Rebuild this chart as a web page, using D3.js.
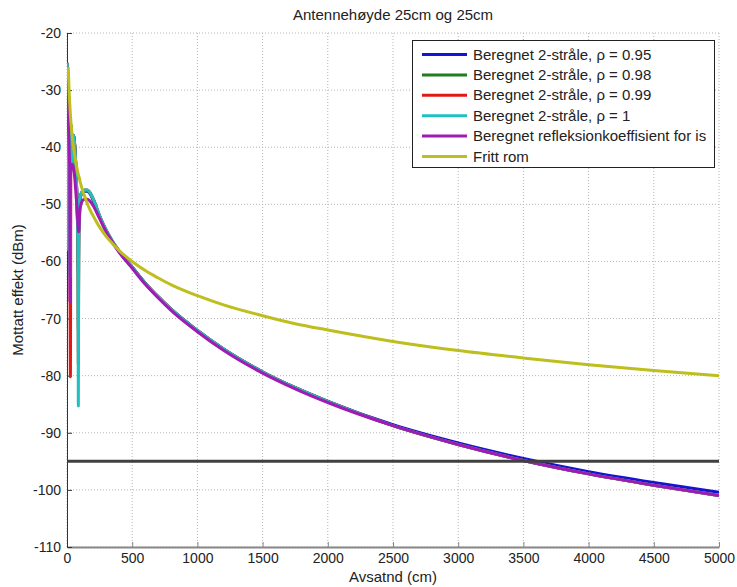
<!DOCTYPE html>
<html>
<head>
<meta charset="utf-8">
<script src="https://cdn.jsdelivr.net/npm/d3@7"></script>
<style>
  body { margin: 0; background: #fff; }
  text { font-family: "Liberation Sans", Arial, sans-serif; fill: #222; }
</style>
</head>
<body>
<div id="chart"></div>
<script>
// avstand i cm (felles x for alle kurver)
var avstand = [2, 4, 6, 8, 10, 12, 14, 16, 18, 20, 23, 26, 30, 35, 40, 45, 50, 55, 60, 65,
  70, 75, 80, 85, 87, 90, 95, 100, 110, 120, 135, 156, 175, 200, 250, 300, 350, 400,
  500, 600, 700, 800, 1000, 1200, 1500, 1750, 2000, 2500, 3000, 3500, 4000, 4500, 5000];

var rho095 = [-25.5, -42, -27.5, -48, -29.5, -50, -31.5, -46, -33.5, -49, -52, -41, -36.5, -38, -43, -38.6, -38, -38.6, -40, -42,
  -44.5, -48, -52, -57, -62, -55, -50.5, -49.2, -48.2, -47.9, -47.7, -47.7, -48.1, -49.2, -52.2, -54.7, -56.7, -58.3,
  -61.0, -63.8, -66.2, -68.4, -72.1, -75.35, -79.35, -82.1, -84.5, -88.6, -91.8, -94.5, -96.8, -98.7, -100.4];

var rho098 = [-25.3, -44, -27.2, -52, -29.2, -55, -31.2, -48, -33.2, -53, -57, -42, -36.2, -38, -43.5, -38.5, -37.9, -38.5, -40, -42,
  -44.5, -48, -52.5, -60, -72, -56, -50.5, -49.1, -48.1, -47.8, -47.6, -47.6, -48, -49.1, -52.1, -54.6, -56.6, -58.2,
  -61.0, -63.8, -66.2, -68.4, -72.1, -75.35, -79.35, -82.1, -84.5, -88.75, -92.05, -94.85, -97.2, -99.2, -101];

var rho099 = [-25.2, -45, -27.1, -54, -29.1, -57, -31.1, -49, -33.1, -56, -60, -80.2, -36.1, -38, -43.8, -38.5, -37.9, -38.5, -40, -42,
  -44.5, -48, -52.6, -61, -78, -56, -50.5, -49, -48, -47.7, -47.5, -47.5, -47.9, -49, -52, -54.5, -56.5, -58.2,
  -61.0, -63.8, -66.2, -68.4, -72.1, -75.35, -79.35, -82.1, -84.5, -88.75, -92.05, -94.85, -97.2, -99.2, -101];

var rho1 = [-25.2, -45, -27, -55, -29, -58, -31, -50, -33, -52, -62.7, -42, -36, -38, -44, -38.5, -37.9, -38.5, -40, -42,
  -44.5, -48, -52.7, -62, -85.3, -56, -50.5, -49, -48, -47.7, -47.5, -47.5, -47.9, -49, -52, -54.5, -56.5, -58.2,
  -61.0, -63.8, -66.2, -68.4, -72.1, -75.35, -79.35, -82.1, -84.5, -88.75, -92.05, -94.85, -97.2, -99.2, -101];

var isRefleksjon = [-28, -30, -31.5, -33, -35, -36.5, -38, -40, -41.5, -43, -67, -44, -43.5, -43, -43, -43.3, -43.8, -44.5, -45.5, -47,
  -48.5, -50, -52, -54, -54.5, -54.8, -52.5, -51, -49.8, -49.3, -49.1, -49.1, -49.4, -50.2, -52.5, -54.8, -56.7, -58.4,
  -61.2, -64.0, -66.4, -68.6, -72.3, -75.55, -79.55, -82.3, -84.7, -88.75, -92.05, -94.85, -97.2, -99.2, -101];

var frittRom = [null, null, null, null, -26, -27.6, -28.9, -30.1, -31.1, -32, -33.2, -34.3, -35.6, -36.9, -38.1, -39.1, -40, -40.8, -41.6, -42.3,
  -42.9, -43.5, -44.1, -44.6, -44.8, -45.1, -45.4, -46, -46.8, -47.6, -48.6, -49.9, -50.9, -52, -54, -55.6, -56.9, -58.1,
  -60, -61.6, -62.9, -64.1, -66, -67.6, -69.5, -70.9, -72, -74, -75.6, -76.9, -78.1, -79.1, -80];

var grenseX = [0, 5000];
var grenseY = [-95, -95];

var serieNavn = ["Beregnet 2-stråle, ρ = 0.95", "Beregnet 2-stråle, ρ = 0.98", "Beregnet 2-stråle, ρ = 0.99",
  "Beregnet 2-stråle, ρ = 1", "Beregnet refleksionkoeffisient for is", "Fritt rom"];
var serieFarger = ["#1414d2", "#1e7d1e", "#e01818", "#1ec0c0", "#a01ab4", "#bebe1e"];
var serieData = [rho095, rho098, rho099, rho1, isRefleksjon, frittRom];

var xTicks = d3.range(0, 5001, 500);
var yTicks = d3.range(-110, -19, 10);

var W = 737, H = 587;
var mLeft = 67, mRight = 719, mTop = 33, mBottom = 547;

var svg = d3.select("#chart").append("svg")
  .attr("width", W).attr("height", H);

var x = d3.scaleLinear().domain([0, 5000]).range([mLeft, mRight]);
var y = d3.scaleLinear().domain([-110, -20]).range([mBottom, mTop]);

// rutenett
svg.append("g").selectAll("line").data(xTicks).enter().append("line")
  .attr("x1", function (d) { return x(d); }).attr("x2", function (d) { return x(d); })
  .attr("y1", mTop).attr("y2", mBottom)
  .attr("stroke", "#b4b4b4").attr("stroke-dasharray", "1,2");
svg.append("g").selectAll("line").data(yTicks).enter().append("line")
  .attr("y1", function (d) { return y(d); }).attr("y2", function (d) { return y(d); })
  .attr("x1", mLeft).attr("x2", mRight)
  .attr("stroke", "#b4b4b4").attr("stroke-dasharray", "1,2");

// akser
var fmt = function (d) { return String(d); };
var xAxis = svg.append("g").attr("transform", "translate(0," + mBottom + ")")
  .call(d3.axisBottom(x).tickValues(xTicks).tickFormat(fmt).tickSizeInner(-5).tickSizeOuter(0).tickPadding(6));
xAxis.select(".domain").attr("stroke", "#888").attr("stroke-width", 2);
xAxis.selectAll(".tick line").attr("stroke", "#888");

var yAxis = svg.append("g").attr("transform", "translate(" + mLeft + ",0)")
  .call(d3.axisLeft(y).tickValues(yTicks).tickFormat(fmt).tickSizeInner(-5).tickSizeOuter(0).tickPadding(6));
yAxis.select(".domain").attr("stroke", "#333");
yAxis.selectAll(".tick line").attr("stroke", "#333");

svg.selectAll(".tick text")
  .attr("fill", "#222")
  .style("font-family", "'Liberation Sans', Arial, sans-serif")
  .style("font-size", "14px");

// kurver
svg.append("clipPath").attr("id", "plotClip").append("rect")
  .attr("x", mLeft).attr("y", mTop).attr("width", mRight - mLeft).attr("height", mBottom - mTop);

var line = d3.line()
  .defined(function (d) { return d[1] !== null; })
  .curve(d3.curveMonotoneX)
  .x(function (d) { return x(d[0]); })
  .y(function (d) { return y(d[1]); });

var plot = svg.append("g").attr("clip-path", "url(#plotClip)");
serieData.forEach(function (vals, i) {
  plot.append("path")
    .datum(avstand.map(function (d, j) { return [d, vals[j]]; }))
    .attr("d", line)
    .attr("fill", "none")
    .attr("stroke", serieFarger[i])
    .attr("stroke-width", 3)
    .attr("stroke-linejoin", "round");
});
plot.append("path")
  .datum(grenseX.map(function (d, j) { return [d, grenseY[j]]; }))
  .attr("d", line)
  .attr("fill", "none")
  .attr("stroke", "#404040")
  .attr("stroke-width", 3);

// legende
var leg = svg.append("g");
leg.append("rect").attr("x", 412.5).attr("y", 40.5).attr("width", 302).attr("height", 127)
  .attr("fill", "#fff").attr("stroke", "#222");
serieNavn.forEach(function (n, i) {
  var yy = 54.5 + i * 20.4;
  leg.append("line").attr("x1", 422).attr("x2", 467).attr("y1", yy).attr("y2", yy)
    .attr("stroke", serieFarger[i]).attr("stroke-width", 3);
  leg.append("text").attr("x", 473).attr("y", yy + 5).style("font-size", "15px").text(n);
});

// titler
svg.append("text").attr("x", (mLeft + mRight) / 2).attr("y", 20).attr("text-anchor", "middle")
  .style("font-size", "15px").text("Antennehøyde 25cm og 25cm");
svg.append("text").attr("x", (mLeft + mRight) / 2).attr("y", 582).attr("text-anchor", "middle")
  .style("font-size", "15px").text("Avsatnd (cm)");
svg.append("text").attr("transform", "translate(23," + (mTop + mBottom) / 2 + ") rotate(-90)")
  .attr("text-anchor", "middle").style("font-size", "15px").text("Mottatt effekt (dBm)");
</script>
</body>
</html>
